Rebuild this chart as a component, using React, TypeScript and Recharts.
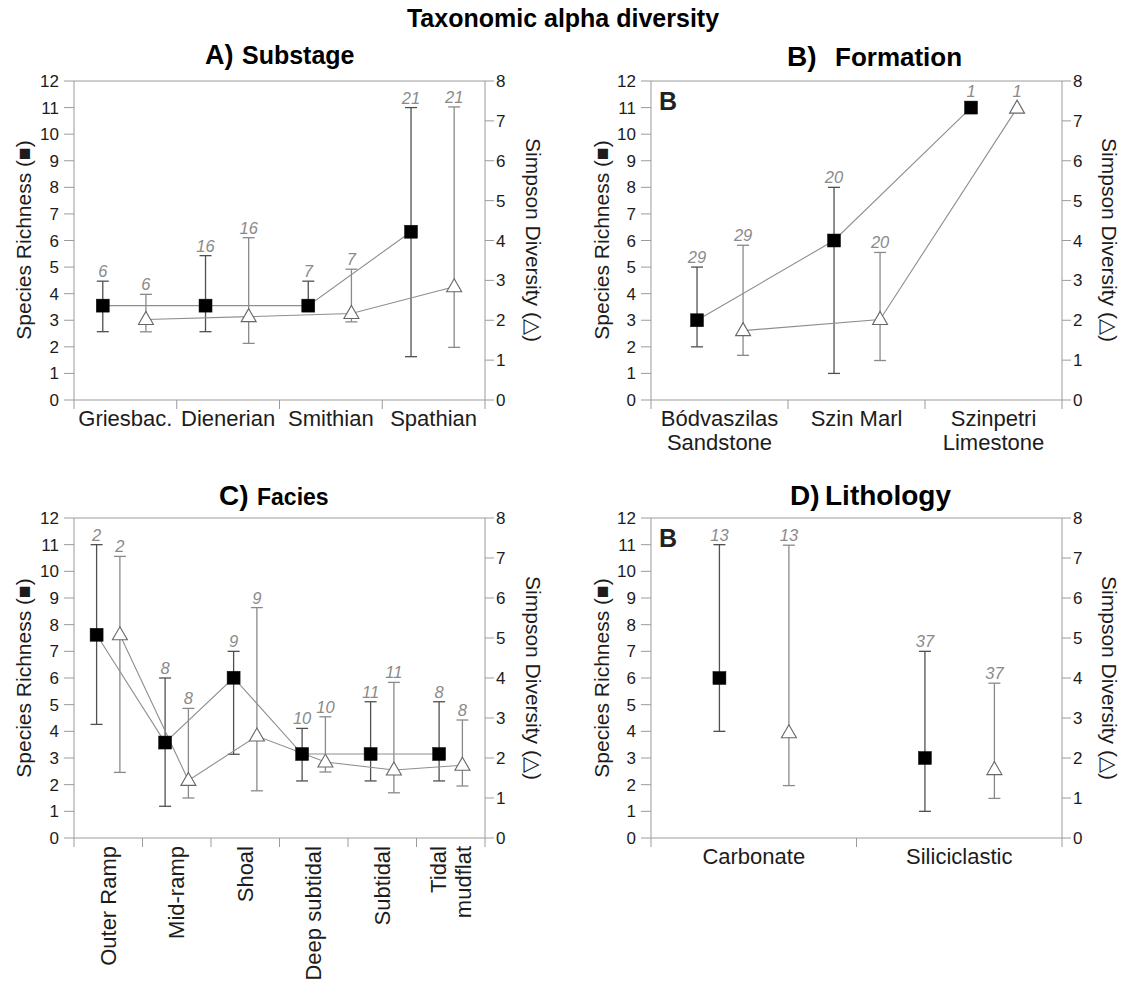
import React from "react"
import { ComposedChart, Scatter, XAxis, YAxis, ErrorBar, ReferenceLine } from "recharts"

const FONT = '"Liberation Sans", Arial, Helvetica, sans-serif'
const INK = "#1c1c1c"
const AXIS = "#9b9b9b"
const LINK = "#8e8e8e"
const COUNT = "#8a8a8a"

const richTicks = [0, 1, 2, 3, 4, 5, 6, 7, 8, 9, 10, 11, 12]
const simpTicks = [0, 1, 2, 3, 4, 5, 6, 7, 8]

// A) Substage
const substageNames = [["Griesbac."], ["Dienerian"], ["Smithian"], ["Spathian"]]
const substageRich = [3.55, 3.55, 3.55, 6.33]
const substageRichLo = [2.57, 2.57, 3.35, 1.63]
const substageRichHi = [4.47, 5.43, 4.47, 11]
const substageSimp = [2.02, 2.09, 2.17, 2.84]
const substageSimpLo = [1.71, 1.42, 1.96, 1.32]
const substageSimpHi = [2.65, 4.07, 3.28, 7.35]
const substageN = [6, 16, 7, 21]

// B) Formation
const formationNames = [["Bódvaszilas", "Sandstone"], ["Szin Marl"], ["Szinpetri", "Limestone"]]
const formationRich = [3, 6, 11]
const formationRichLo = [2, 1, null]
const formationRichHi = [5, 8, null]
const formationSimp = [1.74, 2.02, 7.32]
const formationSimpLo = [1.12, 0.99, null]
const formationSimpHi = [3.88, 3.7, null]
const formationN = [29, 20, 1]

// C) Facies
const faciesNames = [["Outer Ramp"], ["Mid-ramp"], ["Shoal"], ["Deep subtidal"], ["Subtidal"], ["Tidal", "mudflat"]]
const faciesRich = [7.62, 3.58, 6.01, 3.15, 3.15, 3.15]
const faciesRichLo = [4.26, 1.19, 3.14, 2.14, 2.14, 2.14]
const faciesRichHi = [11, 6, 7, 4.11, 5.11, 5.11]
const faciesSimp = [5.08, 1.44, 2.55, 1.9, 1.7, 1.82]
const faciesSimpLo = [1.64, 1.0, 1.18, 1.65, 1.13, 1.3]
const faciesSimpHi = [7.04, 3.24, 5.76, 3.03, 3.89, 2.95]
const faciesN = [2, 8, 9, 10, 11, 8]

// D) Lithology
const lithologyNames = [["Carbonate"], ["Siliciclastic"]]
const lithologyRich = [6, 3]
const lithologyRichLo = [4, 1]
const lithologyRichHi = [11, 7]
const lithologySimp = [2.63, 1.71]
const lithologySimpLo = [1.31, 0.99]
const lithologySimpHi = [7.32, 3.87]
const lithologyN = [13, 37]

type Maybe = number | null

function toRows(values: number[], lo: Maybe[], hi: Maybe[], n: number[], offset: number) {
  return values.map((v, i) => {
    const l = lo[i]
    const h = hi[i]
    const bar = l != null && h != null
    return {
      x: i + offset,
      y: v,
      err: bar ? [v - (l as number), (h as number) - v] : undefined,
      top: bar ? (h as number) : v,
      n: n[i],
      bar,
    }
  })
}

const Square = (p: any) => (
  <rect x={p.cx - 6.5} y={p.cy - 6.5} width={13} height={13} fill="#000" stroke="#111" strokeWidth={0.5} />
)

const Triangle = (p: any) => (
  <path
    d={`M${p.cx},${p.cy - 8} L${p.cx + 7.5},${p.cy + 5} L${p.cx - 7.5},${p.cy + 5} Z`}
    fill="#fff"
    stroke="#666"
    strokeWidth={1.1}
  />
)

// sample count sits just above the upper whisker, or above the marker when there is none
const CountLabel = (p: any) => {
  const d = p.payload ?? p
  return (
    <text x={p.cx} y={p.cy - (d.bar ? 4 : 11)} textAnchor="middle" fontSize={16.5} fontStyle="italic" fill={COUNT}>
      {d.n}
    </text>
  )
}

function CategoryTick({ x, y, payload, names, rotate }: any) {
  const v = payload.value
  if (Number.isInteger(v)) return <line x1={x} x2={x} y1={y} y2={y + 9} stroke={AXIS} />
  const lines: string[] = names[Math.floor(v)]
  if (rotate) {
    return (
      <g>
        {lines.map((l, k) => {
          const lx = x + (k - (lines.length - 1) / 2) * 25
          return (
            <text key={k} x={lx} y={y + 8} transform={`rotate(-90 ${lx} ${y + 8})`}
                  textAnchor="end" dominantBaseline="central" fontSize={22} fill={INK}>
              {l}
            </text>
          )
        })}
      </g>
    )
  }
  return (
    <text x={x} y={y + 26} textAnchor="middle" fontSize={22} fill={INK}>
      {lines.map((l, k) => (
        <tspan key={k} x={x} dy={k === 0 ? 0 : 24}>{l}</tspan>
      ))}
    </text>
  )
}

interface Box { left: number; top: number; width: number; height: number }
interface Plot { left: number; right: number; top: number; bottom: number }

interface PanelProps {
  frame: Box
  plot: Plot
  names: string[][]
  rich: number[]; richLo: Maybe[]; richHi: Maybe[]
  simp: number[]; simpLo: Maybe[]; simpHi: Maybe[]
  n: number[]
  squareOffset: number
  triangleOffset: number
  joined: boolean
  rotate?: boolean
}

function Panel(props: PanelProps) {
  const { frame, plot, names, joined, rotate } = props
  const squares = toRows(props.rich, props.richLo, props.richHi, props.n, props.squareOffset)
  const triangles = toRows(props.simp, props.simpLo, props.simpHi, props.n, props.triangleOffset)
  const xTicks = names.flatMap((_, i) => [i, i + 0.5]).concat(names.length)
  const link = joined ? { stroke: LINK, strokeWidth: 1.1 } : undefined

  return (
    <div style={{ position: "absolute", left: frame.left, top: frame.top }}>
      <ComposedChart
        width={frame.width}
        height={frame.height}
        margin={{ top: plot.top - frame.top, right: 0, bottom: 0, left: 0 }}
      >
        <XAxis
          dataKey="x"
          type="number"
          domain={[0, names.length]}
          ticks={xTicks}
          interval={0}
          allowDataOverflow
          height={frame.top + frame.height - plot.bottom}
          stroke={AXIS}
          tickLine={false}
          tickSize={0}
          tickMargin={0}
          tick={(t: any) => <CategoryTick {...t} names={names} rotate={rotate} />}
        />
        <YAxis
          yAxisId="left"
          type="number"
          domain={[0, 12]}
          ticks={richTicks}
          interval={0}
          allowDataOverflow
          width={plot.left - frame.left}
          stroke={AXIS}
          tickSize={10}
          tickMargin={5}
          tick={{ fill: INK, fontSize: 17 }}
        />
        <YAxis
          yAxisId="right"
          orientation="right"
          type="number"
          domain={[0, 8]}
          ticks={simpTicks}
          interval={0}
          allowDataOverflow
          width={frame.left + frame.width - plot.right}
          stroke={AXIS}
          tickSize={9}
          tickMargin={2}
          tick={{ fill: INK, fontSize: 17 }}
        />
        <ReferenceLine yAxisId="left" y={12} stroke={AXIS} />

        <Scatter data={triangles} dataKey="y" yAxisId="right" shape={Triangle} line={link}
                 isAnimationActive={false}>
          <ErrorBar dataKey="err" direction="y" width={6} stroke="#8a8a8a" strokeWidth={1.3} />
        </Scatter>
        <Scatter data={squares} dataKey="y" yAxisId="left" shape={Square} line={link}
                 isAnimationActive={false}>
          <ErrorBar dataKey="err" direction="y" width={6} stroke="#505050" strokeWidth={1.3} />
        </Scatter>

        <Scatter data={triangles} dataKey="top" yAxisId="right" shape={CountLabel} isAnimationActive={false} />
        <Scatter data={squares} dataKey="top" yAxisId="left" shape={CountLabel} isAnimationActive={false} />
      </ComposedChart>
    </div>
  )
}

function AxisTitles({ left, right, cy }: { left: number; right: number; cy: number }) {
  return (
    <>
      <text x={left} y={cy} transform={`rotate(-90 ${left} ${cy})`} textAnchor="middle"
            dominantBaseline="central" fontSize={21} fill={INK}>
        Species Richness (■)
      </text>
      <text x={right} y={cy} transform={`rotate(90 ${right} ${cy})`} textAnchor="middle"
            dominantBaseline="central" fontSize={21} fill={INK}>
        Simpson Diversity (△)
      </text>
    </>
  )
}

export default function App() {
  return (
    <div style={{ position: "absolute", left: 0, top: 0, width: 1124, height: 983, background: "#fff", fontFamily: FONT }}>
      <Panel
        frame={{ left: 0, top: 0, width: 560, height: 470 }}
        plot={{ left: 74, right: 485, top: 81, bottom: 400 }}
        names={substageNames}
        rich={substageRich} richLo={substageRichLo} richHi={substageRichHi}
        simp={substageSimp} simpLo={substageSimpLo} simpHi={substageSimpHi}
        n={substageN}
        squareOffset={0.28} triangleOffset={0.7}
        joined
      />
      <Panel
        frame={{ left: 560, top: 0, width: 564, height: 470 }}
        plot={{ left: 651, right: 1062, top: 81, bottom: 400 }}
        names={formationNames}
        rich={formationRich} richLo={formationRichLo} richHi={formationRichHi}
        simp={formationSimp} simpLo={formationSimpLo} simpHi={formationSimpHi}
        n={formationN}
        squareOffset={0.336} triangleOffset={0.672}
        joined
      />
      <Panel
        frame={{ left: 0, top: 460, width: 560, height: 523 }}
        plot={{ left: 74, right: 485, top: 518, bottom: 838 }}
        names={faciesNames}
        rich={faciesRich} richLo={faciesRichLo} richHi={faciesRichHi}
        simp={faciesSimp} simpLo={faciesSimpLo} simpHi={faciesSimpHi}
        n={faciesN}
        squareOffset={0.33} triangleOffset={0.67}
        joined
        rotate
      />
      <Panel
        frame={{ left: 560, top: 460, width: 564, height: 523 }}
        plot={{ left: 651, right: 1062, top: 518, bottom: 838 }}
        names={lithologyNames}
        rich={lithologyRich} richLo={lithologyRichLo} richHi={lithologyRichHi}
        simp={lithologySimp} simpLo={lithologySimpLo} simpHi={lithologySimpHi}
        n={lithologyN}
        squareOffset={0.333} triangleOffset={0.671}
        joined={false}
      />

      <svg width={1124} height={983} style={{ position: "absolute", left: 0, top: 0, pointerEvents: "none" }}>
        <text x={563} y={27} textAnchor="middle" fontSize={25} fontWeight="bold" fill="#000">
          Taxonomic alpha diversity
        </text>

        <text x={205} y={64} fontWeight="bold" fill="#000">
          <tspan fontSize={27}>A)</tspan>
          <tspan x={242} fontSize={25}>Substage</tspan>
        </text>
        <text x={787} y={66} fontWeight="bold" fill="#000">
          <tspan fontSize={28}>B)</tspan>
          <tspan x={835} fontSize={26}>Formation</tspan>
        </text>
        <text x={219} y={505} fontWeight="bold" fill="#000">
          <tspan fontSize={28}>C)</tspan>
          <tspan x={257} fontSize={23}>Facies</tspan>
        </text>
        <text x={790} y={505} fontWeight="bold" fill="#000">
          <tspan fontSize={28}>D)</tspan>
          <tspan x={825} fontSize={28}>Lithology</tspan>
        </text>

        <text x={659} y={110} fontSize={25} fontWeight="bold" fill="#222">B</text>
        <text x={659} y={547} fontSize={25} fontWeight="bold" fill="#222">B</text>

        <AxisTitles left={23} right={533} cy={240} />
        <AxisTitles left={601} right={1109} cy={240} />
        <AxisTitles left={23} right={533} cy={678} />
        <AxisTitles left={601} right={1109} cy={678} />
      </svg>
    </div>
  )
}
